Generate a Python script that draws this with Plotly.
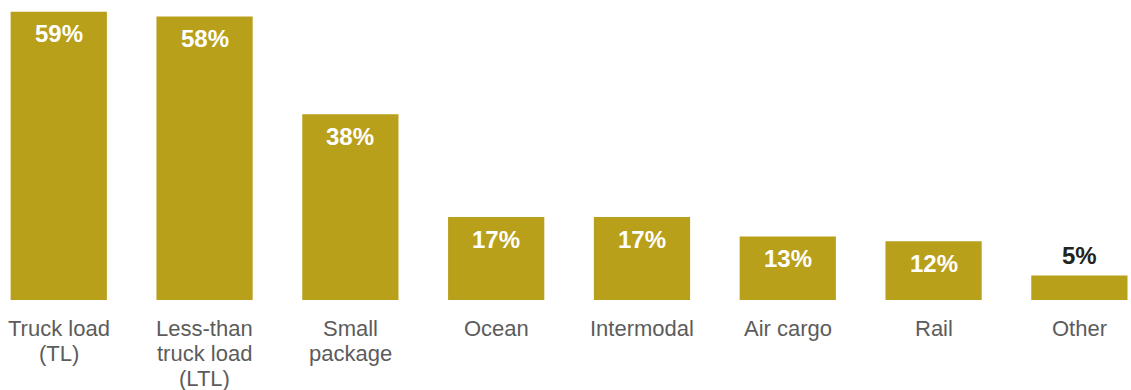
import plotly.graph_objects as go

categories = ["Truck load<br>(TL)", "Less-than<br>truck load<br>(LTL)", "Small<br>package",
              "Ocean", "Intermodal", "Air cargo", "Rail", "Other"]
shares = [59, 58, 38, 17, 17, 13, 12, 5]
value_labels = [f"{v}%" for v in shares]

BAR = "#B8A01B"
FONT = "Liberation Sans, Arial, Helvetica, sans-serif"
LINE_GAP = 25.3  # px between stacked category-label lines
x = list(range(len(categories)))

fig = go.Figure(go.Bar(x=x, y=shares, marker=dict(color=BAR, line=dict(width=0)),
                       width=0.66, hoverinfo="skip"))

# value labels: inside the top of tall bars, above the short one
for i, (v, t) in enumerate(zip(shares, value_labels)):
    inside = v >= 10
    fig.add_annotation(x=i, y=v, text=f"<b>{t}</b>", showarrow=False,
                       xref="x", yref="y",
                       yanchor="top" if inside else "bottom",
                       yshift=-6.7 if inside else 4.5,
                       font=dict(family=FONT, size=24,
                                 color="white" if inside else "#222222"))

# category labels below the baseline, one annotation per line for tight leading
for i, c in enumerate(categories):
    for k, line in enumerate(c.split("<br>")):
        fig.add_annotation(x=i, y=0, text=line, showarrow=False, xref="x", yref="y",
                           yanchor="top", yshift=-13.8 - LINE_GAP * k, align="center",
                           font=dict(family=FONT, size=22, color="#5c5c5c"))

fig.update_layout(
    width=1131, height=390,
    margin=dict(l=0, r=0, t=0, b=90),
    paper_bgcolor="white", plot_bgcolor="white",
    showlegend=False,
    xaxis=dict(range=[-0.403, 7.354], visible=False, fixedrange=True),
    yaxis=dict(range=[0, 61.4], visible=False, fixedrange=True),
)

fig.write_html("out.html")
